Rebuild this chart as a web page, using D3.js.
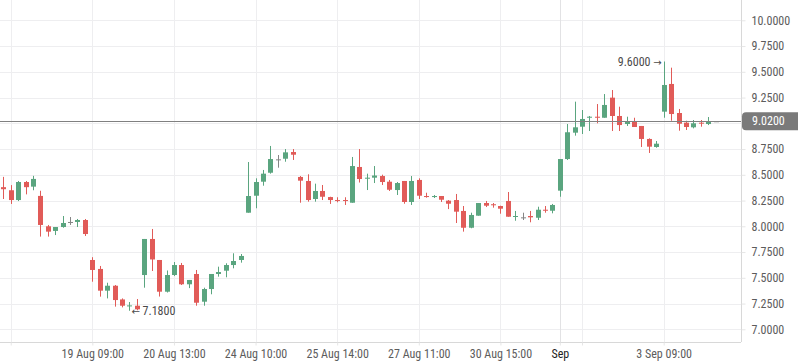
<!DOCTYPE html>
<html>
<head>
<meta charset="utf-8">
<script src="https://cdn.jsdelivr.net/npm/d3@7"></script>
<style>
  body { margin: 0; background: #fff; }
  svg { display: block; }
</style>
</head>
<body>
<div id="chart"></div>
<script>
// OHLC values, one per bar
const opens = [
  8.38, 8.35, 8.255, 8.43, 8.385, 8.295, 8.00, 7.955, 7.993, 8.042,
  8.042, 8.061, 7.673, 7.586, 7.375, 7.423, 7.29, 7.225, 7.229, 7.527,
  7.877, 7.673, 7.365, 7.527, 7.624, 7.437, 7.537, 7.268, 7.391, 7.537,
  7.569, 7.624, 7.673, 8.132, 8.297, 8.433, 8.52, 8.65, 8.656, 8.721,
  8.479, 8.44, 8.265, 8.343, 8.284, 8.255, 8.255, 8.229, 8.576, 8.462,
  8.472, 8.488, 8.433, 8.352, 8.44, 8.236, 8.45, 8.294, 8.284, 8.294,
  8.249, 8.255, 8.149, 7.986, 8.103, 8.226, 8.214, 8.197, 8.246, 8.093,
  8.087, 8.10, 8.083, 8.161, 8.151, 8.346, 8.653, 8.909, 8.967, 9.054,
  9.064, 9.054, 9.249, 9.071, 8.993, 9.016, 8.974, 8.848, 8.77, 9.113,
  9.382, 9.10, 9.006, 8.961, 9.006, 8.993, 9.02
];
const highs = [
  8.48, 8.40, 8.44, 8.44, 8.49, 8.345, 8.013, 7.993, 8.10, 8.09,
  8.071, 8.071, 7.70, 7.615, 7.452, 7.43, 7.30, 7.265, 7.294, 7.877,
  7.974, 7.673, 7.571, 7.653, 7.644, 7.479, 7.576, 7.404, 7.537, 7.608,
  7.641, 7.738, 7.731, 8.624, 8.466, 8.547, 8.78, 8.692, 8.75, 8.75,
  8.488, 8.505, 8.414, 8.401, 8.287, 8.282, 8.282, 8.673, 8.75, 8.511,
  8.585, 8.501, 8.45, 8.43, 8.44, 8.488, 8.466, 8.326, 8.304, 8.294,
  8.255, 8.314, 8.197, 8.132, 8.226, 8.246, 8.226, 8.20, 8.333, 8.149,
  8.132, 8.149, 8.19, 8.197, 8.217, 8.653, 8.993, 9.21, 9.129, 9.071,
  9.187, 9.284, 9.323, 9.161, 9.064, 9.054, 8.974, 8.854, 8.828, 9.60,
  9.54, 9.139, 9.025, 9.032, 9.032, 9.061, 9.02
];
const lows = [
  8.265, 8.217, 8.245, 8.31, 8.35, 7.90, 7.90, 7.915, 7.986, 8.013,
  7.993, 7.906, 7.462, 7.317, 7.30, 7.22, 7.213, 7.18, 7.185, 7.404,
  7.566, 7.318, 7.357, 7.517, 7.43, 7.40, 7.229, 7.229, 7.34, 7.511,
  7.505, 7.592, 7.647, 8.132, 8.175, 8.394, 8.511, 8.569, 8.627, 8.644,
  8.229, 8.239, 8.239, 8.255, 8.217, 8.233, 8.207, 8.229, 8.425, 8.352,
  8.42, 8.401, 8.343, 8.304, 8.219, 8.207, 8.265, 8.278, 8.275, 8.236,
  8.167, 8.032, 7.948, 7.981, 8.103, 8.187, 8.181, 8.122, 8.093, 8.054,
  8.061, 8.039, 8.061, 8.132, 8.126, 8.287, 8.644, 8.88, 8.896, 8.925,
  9.00, 9.054, 8.925, 8.925, 8.974, 8.964, 8.77, 8.712, 8.763, 9.054,
  9.025, 8.928, 8.935, 8.951, 8.967, 8.983, 9.02
];
const closes = [
  8.36, 8.255, 8.43, 8.38, 8.46, 8.013, 7.948, 7.993, 8.032, 8.042,
  8.061, 7.925, 7.576, 7.375, 7.423, 7.284, 7.229, 7.232, 7.194, 7.877,
  7.678, 7.365, 7.527, 7.624, 7.437, 7.479, 7.258, 7.391, 7.537, 7.556,
  7.624, 7.663, 7.712, 8.294, 8.43, 8.511, 8.653, 8.65, 8.718, 8.695,
  8.443, 8.255, 8.343, 8.287, 8.255, 8.249, 8.246, 8.585, 8.459, 8.472,
  8.493, 8.43, 8.355, 8.42, 8.236, 8.44, 8.297, 8.284, 8.294, 8.258,
  8.219, 8.142, 7.986, 8.11, 8.226, 8.20, 8.204, 8.171, 8.093, 8.10,
  8.087, 8.087, 8.161, 8.151, 8.207, 8.653, 8.913, 8.961, 9.042, 9.064,
  9.054, 9.178, 9.071, 8.983, 9.016, 8.964, 8.848, 8.773, 8.802, 9.372,
  9.09, 8.996, 8.964, 9.00, 9.00, 9.016, 9.02
];

// time axis: bar index of each tick and its label ("" = hidden label)
const tickIndex = [1, 12, 23, 34, 45, 56, 67, 75, 78, 89];
const tickLabels = ["", "19 Aug 09:00", "20 Aug 13:00", "24 Aug 10:00", "25 Aug 14:00",
                    "27 Aug 11:00", "30 Aug 15:00", "Sep", "", "3 Sep 09:00"];
const monthTick = "Sep";

const priceTicks = [7, 7.25, 7.5, 7.75, 8, 8.25, 8.5, 8.75, 9.25, 9.5, 9.75, 10];
const lastPrice = 9.02;
const maxMarker = { index: 89, value: 9.60 };
const minMarker = { index: 17, value: 7.18 };

// ---------------------------------------------------------------------------
const W = 798, H = 363;
const plotW = 741, plotH = 342;
const font = "'Liberation Sans Narrow', 'Arial Narrow', 'Roboto Condensed', sans-serif";
const arrowFont = "'DejaVu Sans', sans-serif";

const bars = opens.map((o, i) => ({ i, o, h: highs[i], l: lows[i], c: closes[i] }));

const x = d3.scaleLinear().domain([0, bars.length - 1]).range([3.3, 715.6]);
const y = d3.scaleLinear().domain([7, 10]).range([329.3, 20.3]);

const upColor = "#5aa57f", downColor = "#e15b58", flatColor = "#858585";
const colorOf = d => d.c > d.o ? upColor : (d.c < d.o ? downColor : flatColor);
const fmt = d3.format(".4f");

const svg = d3.select("#chart").append("svg")
  .attr("width", W).attr("height", H)
  .style("font-family", font);

// grid
const grid = svg.append("g");
grid.selectAll("line.h")
  .data(priceTicks.concat([9]))
  .enter().append("line")
  .attr("x1", 0).attr("x2", plotW)
  .attr("y1", d => Math.round(y(d)) + 0.5).attr("y2", d => Math.round(y(d)) + 0.5)
  .attr("stroke", "#eeeef0");
grid.selectAll("line.v")
  .data(tickIndex)
  .enter().append("line")
  .attr("y1", 0).attr("y2", plotH)
  .attr("x1", d => Math.round(x(d)) + 0.5).attr("x2", d => Math.round(x(d)) + 0.5)
  .attr("stroke", (d, i) => tickLabels[i] === monthTick ? "#e2e2e4" : "#eeeef0");

// candles
svg.append("clipPath").attr("id", "plot")
  .append("rect").attr("width", plotW).attr("height", plotH);

const candles = svg.append("g").attr("clip-path", "url(#plot)")
  .selectAll("g.candle")
  .data(bars)
  .enter().append("g");

candles.append("line")
  .attr("x1", d => Math.round(x(d.i)) + 0.5)
  .attr("x2", d => Math.round(x(d.i)) + 0.5)
  .attr("y1", d => y(d.h))
  .attr("y2", d => y(d.l))
  .attr("stroke", colorOf)
  .attr("stroke-width", 1);

candles.append("rect")
  .attr("x", d => Math.round(x(d.i)) - 2)
  .attr("width", 5)
  .attr("y", d => y(Math.max(d.o, d.c)))
  .attr("height", d => Math.max(1, y(Math.min(d.o, d.c)) - y(Math.max(d.o, d.c))))
  .attr("fill", colorOf);

// last price line
svg.append("line")
  .attr("x1", 0).attr("x2", plotW)
  .attr("y1", Math.round(y(lastPrice)) + 0.5).attr("y2", Math.round(y(lastPrice)) + 0.5)
  .attr("stroke", "#808080");

// high / low markers
const hi = svg.append("text")
  .attr("x", x(maxMarker.index) - 2)
  .attr("y", y(maxMarker.value))
  .attr("dy", "0.35em")
  .attr("text-anchor", "end")
  .attr("fill", "#4a4a4a")
  .attr("font-size", 12);
hi.append("tspan").text(fmt(maxMarker.value) + " ");
hi.append("tspan").attr("font-family", arrowFont).attr("font-size", 10).text("\u2192");

const lo = svg.append("text")
  .attr("x", x(minMarker.index) + 2)
  .attr("y", y(minMarker.value))
  .attr("dy", "0.35em")
  .attr("text-anchor", "start")
  .attr("fill", "#4a4a4a")
  .attr("font-size", 12);
lo.append("tspan").attr("font-family", arrowFont).attr("font-size", 10).text("\u2190");
lo.append("tspan").text(" " + fmt(minMarker.value));

// price axis (right)
const yAxis = svg.append("g")
  .attr("transform", `translate(${plotW + 0.5},0)`)
  .call(d3.axisRight(y).tickValues(priceTicks).tickFormat(fmt)
    .tickSize(4).tickPadding(6));
yAxis.select(".domain").attr("stroke", "#d8d8d8").attr("d", `M0,0V${plotH}`);
yAxis.selectAll(".tick line").attr("stroke", "#e6e6e6");
yAxis.selectAll(".tick text")
  .attr("fill", "#5c5c5c").attr("font-size", 12).attr("font-family", font);

// bottom time axis
const xAxis = svg.append("g")
  .attr("transform", `translate(0,${plotH + 0.5})`)
  .call(d3.axisBottom(x).tickValues(tickIndex).tickFormat((d, i) => tickLabels[i])
    .tickSize(3).tickPadding(4));
xAxis.select(".domain").attr("stroke", "#d8d8d8").attr("d", `M0,0H${plotW}`);
xAxis.selectAll(".tick line").attr("stroke", "#e6e6e6");
xAxis.selectAll(".tick text")
  .attr("fill", (d, i) => tickLabels[i] === monthTick ? "#1e1e1e" : "#5c5c5c")
  .attr("font-size", 12).attr("font-family", font);

// last price tag
const tagY = y(lastPrice);
svg.append("rect")
  .attr("x", plotW + 1).attr("y", tagY - 9)
  .attr("width", W - plotW + 8).attr("height", 18)
  .attr("rx", 4)
  .attr("fill", "#7a7a7a");
svg.append("text")
  .attr("x", plotW + 11).attr("y", tagY)
  .attr("dy", "0.35em")
  .attr("fill", "#fff")
  .attr("font-size", 12)
  .text(fmt(lastPrice));
</script>
</body>
</html>
